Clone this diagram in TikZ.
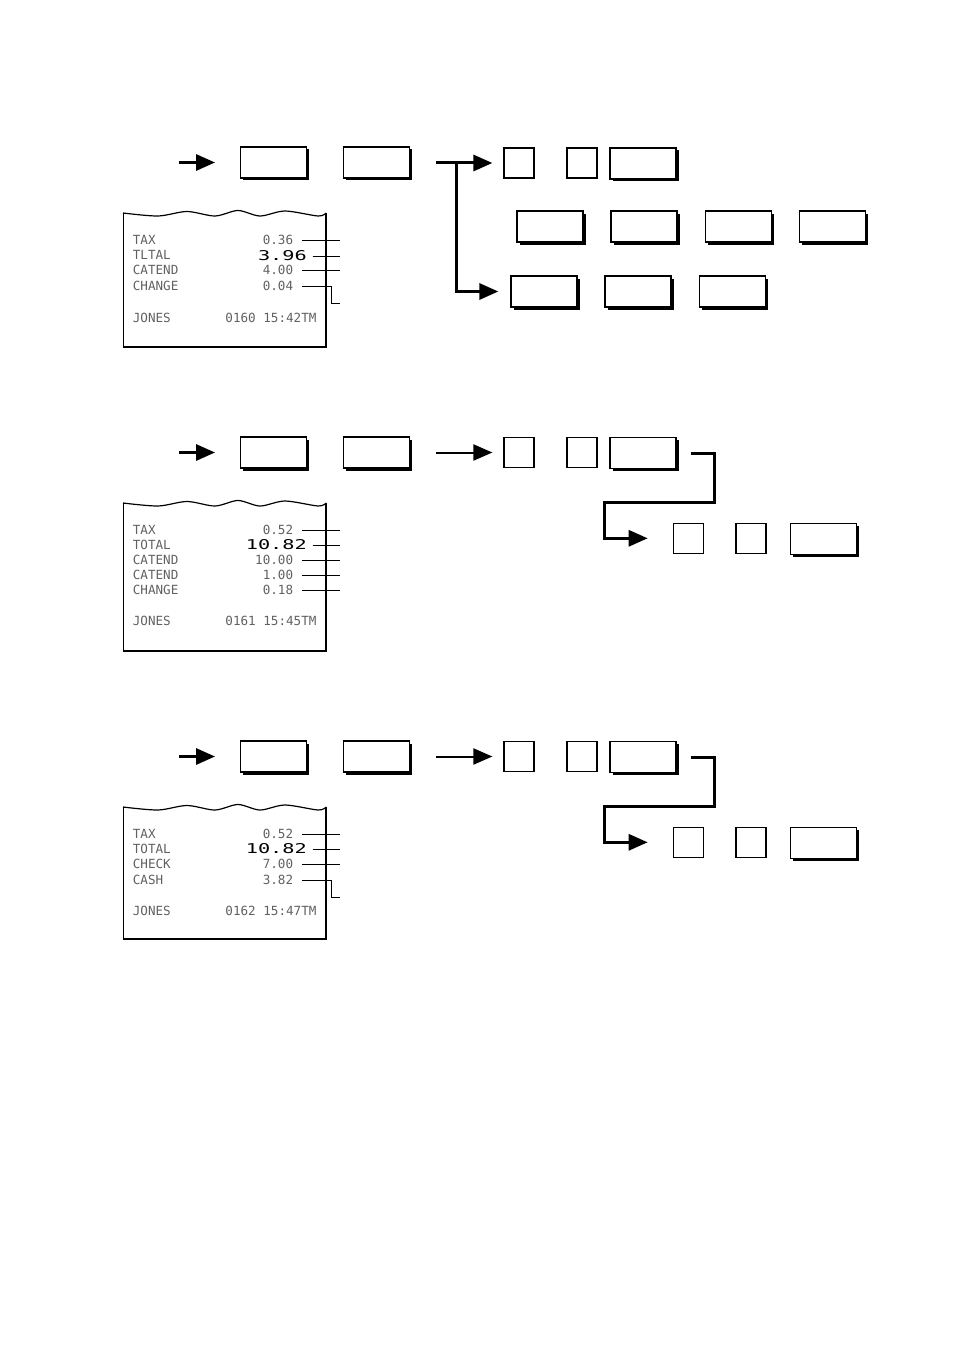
\documentclass[tikz,border=0pt]{standalone}
\usepackage{fontspec}
\newfontfamily\rcptfont{DejaVu Sans Mono}
\usetikzlibrary{arrows.meta,shadows,positioning,calc}
\tikzset{
  key/.style   = { draw, fill=white, line width=1.3pt, minimum width=66pt,
    minimum height=31pt, inner sep=0pt,
    drop shadow={shadow xshift=2.5pt, shadow yshift=-2.5pt, fill=black, opacity=1} },
  sqkey/.style = { draw, fill=white, line width=1.2pt, minimum size=30pt, inner sep=0pt },
  flow/.style  = { line width=3pt, -{Triangle[length=19pt,width=16pt]} },
  thinflow/.style = { flow, line width=2pt },
  lead/.style  = { line width=1pt },
  paper/.style = { line width=1.2pt },
  rlab/.style  = { inner sep=0pt, text=black!62, font=\rcptfont\fontsize{12.6}{15}\selectfont },
  rbig/.style  = { inner sep=0pt, font=\rcptfont\fontsize{13.5}{15}\selectfont }
}
\newcommand{\wide}[1]{\scalebox{1.5}[1]{#1}}
\begin{document}
\begin{tikzpicture}[x=1pt,y=-1pt]
  \useasboundingbox (0,0) rectangle (954,1351);

  % ---- first receipt ----
  \draw[paper] plot [smooth] coordinates {(123,213) (158,216) (187,211.5) (215,216)
        (238,210.5) (260,216) (285,211) (318,216) (326,213)};
  \draw[line width=1pt] (123,213) -- (123,346.7);
  \draw[line width=2pt] (326,213) -- (326,346.7) -- (123,346.7);
  \foreach \lab [count=\i] in {TAX,TLTAL,CATEND,CHANGE}
    \node[rlab, anchor=base west] (la\i) at (132.7,228.6+15.4*\i) {\lab};
  \node[rlab, anchor=base east] (va1) at (293.3,244) {0.36};
  \node[rbig, anchor=base east] (va2) at (307,260) {\wide{3.96}};
  \node[rlab, anchor=base east] (va3) at (293.3,274.8) {4.00};
  \node[rlab, anchor=base east] (va4) at (293.3,290.2) {0.04};
  \node[rlab, anchor=base west] (ja) at (132.7,322) {JONES};
  \node[rlab, anchor=base east] (ta) at (316.7,322) {0160 15:42TM};
  \coordinate (ra) at (340,0);
  \foreach \v in {va1,va3}
    \draw[lead] ([xshift=9pt,yshift=4pt]\v.base east) -- ([yshift=4pt]\v.base east -| ra);
  \draw[lead] ([xshift=5.5pt,yshift=4pt]va2.base east) -- ([yshift=4pt]va2.base east -| ra);
  \draw[lead] ([xshift=9pt,yshift=4pt]va4.base east) -- ++(29.4,0) -- ++(0,17.3) -- ++(8.3,0);

  % ---- first key sequence ----
  \coordinate (sa) at (179,162.5);
  \node[key] (ka1) at (273.7,162.5) {};
  \node[key] (ka2) at (376.5,162.5) {};
  \node[sqkey] (qa1) at (519,163) {};
  \node[sqkey] (qa2) at (582,163) {};
  \node[key] (ka3) at (643,163.5) {};
  \node[key] (ma1) at (550,226.5) {};
  \node[key] (ma2) at (644,226.5) {};
  \node[key] (ma3) at (738.5,226.5) {};
  \node[key] (ma4) at (832.5,226.5) {};
  \node[key] (na1) at (544,291.5) {};
  \node[key] (na2) at (638,291.5) {};
  \node[key] (na3) at (732.5,291.5) {};
  \coordinate (ja1) at (456,163);
  \draw[flow, shorten >=25pt] (sa) -- (ka1);
  \draw[flow, shorten <=26pt, shorten >=11pt] (ka2.east |- qa1) -- (qa1);
  \draw[flow, shorten >=12pt] (ja1) |- (na1);

  % ---- second receipt and keys ----
  \begin{scope}[shift={(0,290)}]
    \draw[paper] plot [smooth] coordinates {(123,213) (158,216) (187,211.5) (215,216)
          (238,210.5) (260,216) (285,211) (318,216) (326,213)};
    \draw[line width=1pt] (123,213) -- (123,360.7);
    \draw[line width=2pt] (326,213) -- (326,360.7) -- (123,360.7);
    \foreach \lab [count=\i] in {TAX,TOTAL,CATEND,CATEND,CHANGE}
      \node[rlab, anchor=base west] (lb\i) at (132.7,229+15*\i) {\lab};
    \node[rlab, anchor=base east] (vb1) at (293.3,244) {0.52};
    \node[rbig, anchor=base east] (vb2) at (307,259.5) {\wide{10.82}};
    \node[rlab, anchor=base east] (vb3) at (293.3,274) {10.00};
    \node[rlab, anchor=base east] (vb4) at (293.3,289) {1.00};
    \node[rlab, anchor=base east] (vb5) at (293.3,304) {0.18};
    \node[rlab, anchor=base west] (jb) at (132.7,335) {JONES};
    \node[rlab, anchor=base east] (tb) at (316.7,335) {0161 15:45TM};
    \coordinate (rb) at (340,0);
    \foreach \v in {vb1,vb3,vb4,vb5}
      \draw[lead] ([xshift=9pt,yshift=4pt]\v.base east) -- ([yshift=4pt]\v.base east -| rb);
    \draw[lead] ([xshift=5.5pt,yshift=4pt]vb2.base east) -- ([yshift=4pt]vb2.base east -| rb);

    \coordinate (sb) at (179,162.5);
    \node[key] (kb1) at (273.7,162.5) {};
    \node[key] (kb2) at (376.5,162.5) {};
    \node[sqkey] (qb1) at (519,162.5) {};
    \node[sqkey] (qb2) at (582,162.5) {};
    \node[key] (kb3) at (643,163) {};
    \node[sqkey] (pb1) at (688.3,248.3) {};
    \node[sqkey] (pb2) at (751,248.3) {};
    \node[key] (kb4) at (823.7,249) {};
    \coordinate (eb1) at (714,212.3);
    \coordinate (eb2) at (604,212.3);
    \draw[flow, shorten >=25pt] (sb) -- (kb1);
    \draw[thinflow, shorten <=26pt, shorten >=11pt] (kb2) -- (qb1);
    \draw[flow, shorten <=14pt, shorten >=25pt] (kb3) -| (eb1) -- (eb2) |- (pb1);
  \end{scope}

  % ---- third receipt and keys ----
  \begin{scope}[shift={(0,594)}]
    \draw[paper] plot [smooth] coordinates {(123,213) (158,216) (187,211.5) (215,216)
          (238,210.5) (260,216) (285,211) (318,216) (326,213)};
    \draw[line width=1pt] (123,213) -- (123,345.3);
    \draw[line width=2pt] (326,213) -- (326,345.3) -- (123,345.3);
    \foreach \lab [count=\i] in {TAX,TOTAL,CHECK,CASH}
      \node[rlab, anchor=base west] (lc\i) at (132.7,228.6+15.4*\i) {\lab};
    \node[rlab, anchor=base east] (vc1) at (293.3,244) {0.52};
    \node[rbig, anchor=base east] (vc2) at (307,259.5) {\wide{10.82}};
    \node[rlab, anchor=base east] (vc3) at (293.3,274.8) {7.00};
    \node[rlab, anchor=base east] (vc4) at (293.3,290.2) {3.82};
    \node[rlab, anchor=base west] (jc) at (132.7,321) {JONES};
    \node[rlab, anchor=base east] (tc) at (316.7,321) {0162 15:47TM};
    \coordinate (rc) at (340,0);
    \foreach \v in {vc1,vc3}
      \draw[lead] ([xshift=9pt,yshift=4pt]\v.base east) -- ([yshift=4pt]\v.base east -| rc);
    \draw[lead] ([xshift=5.5pt,yshift=4pt]vc2.base east) -- ([yshift=4pt]vc2.base east -| rc);
    \draw[lead] ([xshift=9pt,yshift=4pt]vc4.base east) -- ++(29.4,0) -- ++(0,17.3) -- ++(8.3,0);

    \coordinate (sc) at (179,162.5);
    \node[key] (kc1) at (273.7,162.5) {};
    \node[key] (kc2) at (376.5,162.5) {};
    \node[sqkey] (qc1) at (519,162.5) {};
    \node[sqkey] (qc2) at (582,162.5) {};
    \node[key] (kc3) at (643,163) {};
    \node[sqkey] (pc1) at (688.3,248.3) {};
    \node[sqkey] (pc2) at (751,248.3) {};
    \node[key] (kc4) at (823.7,249) {};
    \coordinate (ec1) at (714,212.3);
    \coordinate (ec2) at (604,212.3);
    \draw[flow, shorten >=25pt] (sc) -- (kc1);
    \draw[thinflow, shorten <=26pt, shorten >=11pt] (kc2) -- (qc1);
    \draw[flow, shorten <=14pt, shorten >=25pt] (kc3) -| (ec1) -- (ec2) |- (pc1);
  \end{scope}
\end{tikzpicture}
\end{document}
